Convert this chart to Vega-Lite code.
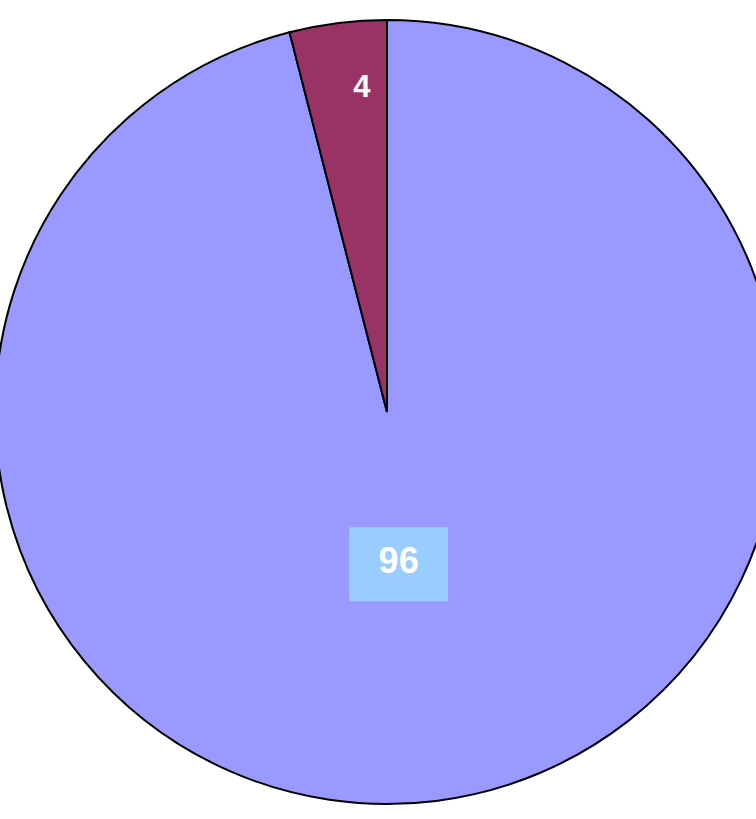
{
  "$schema": "https://vega.github.io/schema/vega-lite/v6.json",
  "width": 756,
  "height": 819,
  "autosize": {"type": "fit", "contains": "padding"},
  "padding": {"left": 18, "top": 5, "right": 0, "bottom": 0},
  "background": "white",
  "view": {"stroke": null},
  "data": {"values": [
    {"category": "A", "value": 96},
    {"category": "B", "value": 4}
  ]},
  "encoding": {
    "theta": {"field": "value", "type": "quantitative", "stack": true},
    "order": {"field": "category", "type": "nominal"}
  },
  "layer": [
    {
      "mark": {"type": "arc", "outerRadius": 392, "stroke": "#000000", "strokeWidth": 2},
      "encoding": {
        "color": {"field": "category", "type": "nominal", "legend": null,
          "scale": {"domain": ["A", "B"], "range": ["#9999FF", "#993366"]}}
      }
    },
    {
      "mark": {"type": "text", "thetaOffset": 0.048, "font": "DejaVu Sans Mono", "fontSize": 54, "lineHeight": 10, "color": "#99CCFF", "baseline": "middle", "align": "center", "text": ["███", "███"]},
      "encoding": {
        "radius": {"field": "value", "type": "quantitative", "scale": {"domain": [4, 96], "range": [325, 150], "zero": false}},
        "opacity": {"field": "category", "type": "nominal", "legend": null, "scale": {"domain": ["A", "B"], "range": [1, 0]}}
      }
    },
    {
      "mark": {"type": "text", "thetaOffset": 0.048, "font": "Liberation Sans", "fontWeight": "bold", "color": "white", "baseline": "middle", "align": "center"},
      "encoding": {
        "text": {"field": "value", "type": "quantitative"},
        "radius": {"field": "value", "type": "quantitative", "scale": {"domain": [4, 96], "range": [325, 150], "zero": false}},
        "size": {"field": "category", "type": "nominal", "legend": null, "scale": {"domain": ["A", "B"], "range": [36, 31]}}
      }
    }
  ]
}
